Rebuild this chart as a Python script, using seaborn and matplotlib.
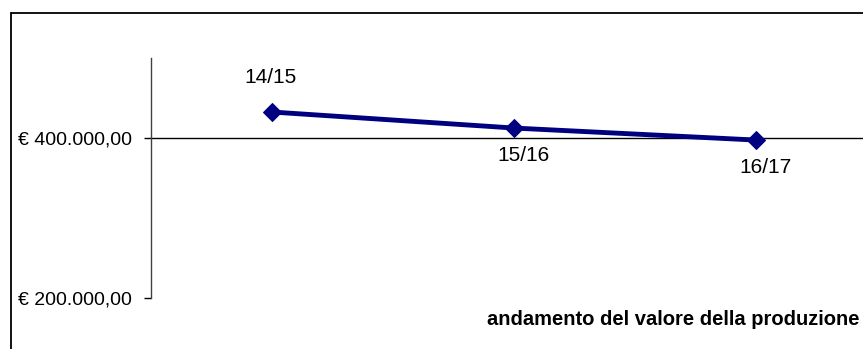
import matplotlib
matplotlib.use("Agg")
import matplotlib.pyplot as plt
from matplotlib.lines import Line2D
from matplotlib.ticker import FuncFormatter
import seaborn as sns
import pandas as pd

# dati
anni = ["14/15", "15/16", "16/17"]
valori = [432000, 412000, 397000]
posizione_etichette = ["sopra", "sotto", "sotto"]
titolo = "andamento del valore della produzione"


def euro(v, pos=None):
    s = f"{v:,.2f}".replace(",", "X").replace(".", ",").replace("X", ".")
    return "€ " + s


def main():
    sns.set_style("white")
    plt.rcParams["font.family"] = ["Liberation Sans", "DejaVu Sans"]
    plt.rcParams["text.color"] = "black"
    plt.rcParams["ytick.labelcolor"] = "black"

    df = pd.DataFrame({"anno": anni, "valore": valori})

    fig = plt.figure(figsize=(8.63, 3.49), dpi=100)
    ax = fig.add_axes([151 / 863, 1 - 298 / 349, 726 / 863, 240.5 / 349])

    sns.lineplot(data=df, x="anno", y="valore", ax=ax, color="#000080",
                 linewidth=3.5, marker="D", markersize=9.5, markeredgecolor="#000080",
                 sort=False)

    ax.set_xlim(-0.5, len(anni) - 0.5)
    ax.set_ylim(200000, 500000)
    ax.set_yticks([200000, 400000])
    ax.yaxis.set_major_formatter(FuncFormatter(euro))
    ax.tick_params(axis="y", length=5, width=1, color="black", labelsize=14,
                   labelcolor="black", pad=9, left=True)
    ax.set_xticks([])
    ax.set_xlabel("")
    ax.set_ylabel("")

    ax.spines["top"].set_visible(False)
    ax.spines["right"].set_visible(False)
    ax.spines["left"].set_color("#404040")
    ax.spines["left"].set_linewidth(1)
    ax.spines["bottom"].set_position(("data", 400000))
    ax.spines["bottom"].set_color("black")
    ax.spines["bottom"].set_linewidth(1)
    ax.spines["bottom"].set_zorder(1)

    # etichette dei dati (nome categoria)
    for i, (a, v, p) in enumerate(zip(anni, valori, posizione_etichette)):
        if p == "sopra":
            ax.annotate(a, (i, v), xytext=(-1, 25), textcoords="offset points",
                        ha="center", va="center", fontsize=15, color="black")
        else:
            ax.annotate(a, (i, v), xytext=(7, -19.5), textcoords="offset points",
                        ha="center", va="center", fontsize=15, color="black")

    # cornice del grafico
    fig.add_artist(Line2D([11 / 863, 11 / 863], [0, 1 - 13 / 349],
                          transform=fig.transFigure, color="black", linewidth=1.3))
    fig.add_artist(Line2D([11 / 863, 1], [1 - 13 / 349, 1 - 13 / 349],
                          transform=fig.transFigure, color="black", linewidth=1.3))

    fig.text(859 / 863, 1 - 325 / 349, titolo, ha="right", va="baseline",
             fontsize=14.5, fontweight="bold", color="black")

    fig.savefig("out.png", dpi=100)


if __name__ == "__main__":
    main()
